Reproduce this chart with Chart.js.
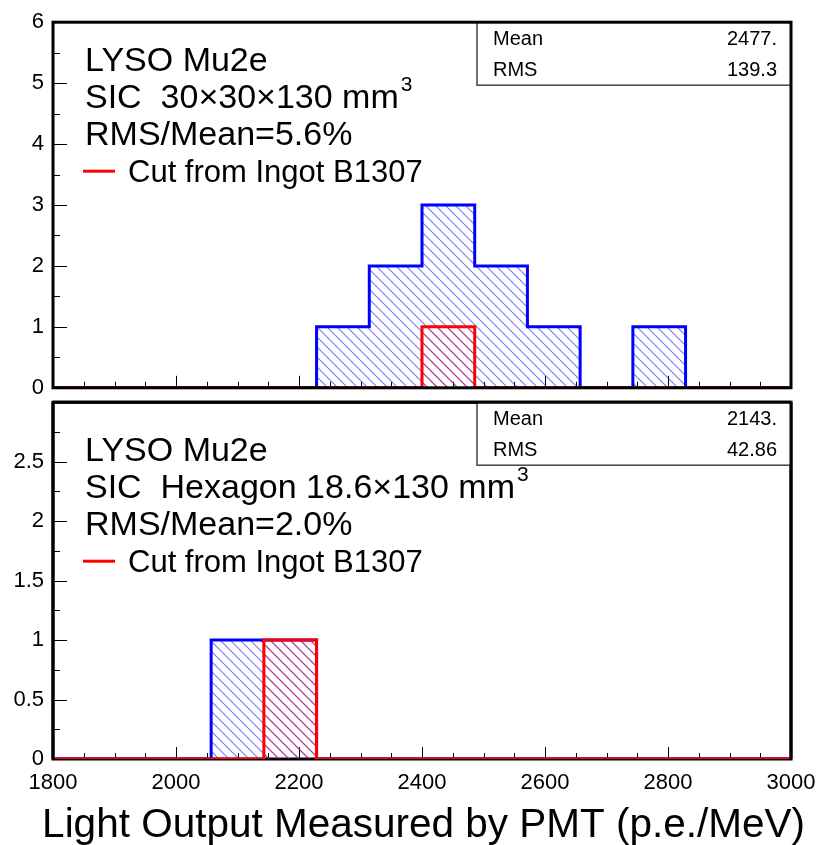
<!DOCTYPE html>
<html>
<head>
<meta charset="utf-8">
<script src="https://cdn.jsdelivr.net/npm/chart.js@4"></script>
<style>
  html, body { margin: 0; padding: 0; background: #fff; }
  #wrap { position: relative; width: 823px; height: 845px; }
  canvas { position: absolute; left: 0; }
  #top-chart { top: 0; }
  #bot-chart { top: 380px; }
</style>
</head>
<body>
<div id="wrap">
  <canvas id="top-chart" width="823" height="410"></canvas>
  <canvas id="bot-chart" width="823" height="465"></canvas>
</div>
<script>
// histogram binning (14 bins between 1800 and 3000)
const xMin = 1800;
const xMax = 3000;
const nBins = 14;

// entries per bin
const topAll   = [0, 0, 0, 0, 0, 1, 2, 3, 2, 1, 0, 1, 0, 0];
const topB1307 = [0, 0, 0, 0, 0, 0, 0, 1, 0, 0, 0, 0, 0, 0];
const botAll   = [0, 0, 0, 1, 1, 0, 0, 0, 0, 0, 0, 0, 0, 0];
const botB1307 = [0, 0, 0, 0, 1, 0, 0, 0, 0, 0, 0, 0, 0, 0];

// text
const topLines = ['LYSO Mu2e', 'SIC  30\u00d730\u00d7130 mm', 'RMS/Mean=5.6%'];
const botLines = ['LYSO Mu2e', 'SIC  Hexagon 18.6\u00d7130 mm', 'RMS/Mean=2.0%'];
const legendLabel = 'Cut from Ingot B1307';
const topStats = [['Mean', '2477.'], ['RMS', '139.3']];
const botStats = [['Mean', '2143.'], ['RMS', '42.86']];
const xTitle = 'Light Output Measured by PMT (p.e./MeV)';

const FONT = '"Liberation Sans", Arial, Helvetica, sans-serif';

function histPoints(counts) {
    const w = (xMax - xMin) / counts.length;
    const pts = counts.map((c, i) => ({ x: xMin + i * w, y: c }));
    pts.push({ x: xMax, y: 0 });
    return pts;
}

function hatch(color) {
    const s = 10;
    const c = document.createElement('canvas');
    c.width = s; c.height = s;
    const g = c.getContext('2d');
    g.strokeStyle = color;
    g.lineWidth = 1.1;
    g.beginPath();
    g.moveTo(-1, -1); g.lineTo(s + 1, s + 1);
    g.moveTo(s - 2, -2); g.lineTo(s + 2, 2);
    g.moveTo(-2, s - 2); g.lineTo(2, s + 2);
    g.stroke();
    return g.createPattern(c, 'repeat');
}

function histDataset(counts, line, fill, order) {
    return {
        data: histPoints(counts),
        stepped: 'before',   // horizontal first: bin edge -> next edge
        borderColor: line,
        borderWidth: 3,
        backgroundColor: hatch(fill),
        fill: 'origin',
        pointRadius: 0,
        order: order
    };
}

// inward ticks + frame
function drawFrame(chart) {
    const ctx = chart.ctx;
    const a = chart.chartArea;
    ctx.save();
    ctx.strokeStyle = '#000';
    ctx.lineWidth = 3;
    ctx.strokeRect(a.left, a.top, a.right - a.left, a.bottom - a.top);
    ctx.restore();
}

function drawTicks(chart, yMinor) {
    const ctx = chart.ctx;
    const a = chart.chartArea;
    const xs = chart.scales.x;
    const ys = chart.scales.y;
    ctx.save();
    ctx.strokeStyle = '#000';
    ctx.lineWidth = 1;
    ctx.beginPath();
    for (let v = xMin; v <= xMax; v += 50) {
        const px = Math.round(xs.getPixelForValue(v)) + 0.5;
        const len = (v % 200 === 0) ? 12 : 6;
        ctx.moveTo(px, a.bottom);
        ctx.lineTo(px, a.bottom - len);
    }
    for (let i = 0; ys.min + i * yMinor <= ys.max + 1e-9; i++) {
        const v = ys.min + i * yMinor;
        const py = Math.round(ys.getPixelForValue(v)) + 0.5;
        const len = (i % 2 === 0) ? 14 : 7;
        ctx.moveTo(a.left, py);
        ctx.lineTo(a.left + len, py);
    }
    ctx.stroke();
    ctx.restore();
}

const panelPlugin = {
    id: 'panel',
    beforeDatasetsDraw(chart, args, opts) {
        drawTicks(chart, opts.yMinor);
        if (!opts.frameOnTop) drawFrame(chart);
    },
    afterDatasetsDraw(chart, args, opts) {
        const ctx = chart.ctx;
        const a = chart.chartArea;

        // text block
        ctx.save();
        ctx.fillStyle = '#000';
        ctx.textBaseline = 'alphabetic';
        ctx.textAlign = 'left';
        ctx.font = '34px ' + FONT;
        const x0 = a.left + 32;
        const y0 = a.top + opts.textTop;
        opts.lines.forEach((t, i) => {
            ctx.fillText(t, x0, y0 + i * 37);
        });
        const w2 = ctx.measureText(opts.lines[1]).width;
        ctx.font = '21px ' + FONT;
        ctx.fillText('3', x0 + w2 + 2, y0 + 37 - 17);

        // legend entry
        ctx.font = '31px ' + FONT;
        ctx.fillText(legendLabel, a.left + 75, y0 + 3 * 37);
        ctx.strokeStyle = '#ff0000';
        ctx.lineWidth = 3;
        ctx.beginPath();
        ctx.moveTo(a.left + 30, y0 + 3 * 37 - 11);
        ctx.lineTo(a.left + 62, y0 + 3 * 37 - 11);
        ctx.stroke();

        // stats box
        const bx = 477, bw = a.right - bx, bh = 63;
        ctx.fillStyle = '#fff';
        ctx.fillRect(bx, a.top, bw, bh);
        ctx.strokeStyle = '#444';
        ctx.lineWidth = 1.5;
        ctx.strokeRect(bx, a.top, bw, bh);
        ctx.fillStyle = '#000';
        ctx.font = '20px ' + FONT;
        opts.stats.forEach((row, i) => {
            const y = a.top + 23 + i * 31;
            ctx.textAlign = 'left';
            ctx.fillText(row[0], bx + 16, y);
            ctx.textAlign = 'right';
            ctx.fillText(row[1], a.right - 14, y);
        });

        // axis title, wider than the plot area, so drawn here
        if (opts.title) {
            ctx.font = '40px ' + FONT;
            const size = 40 * 763 / ctx.measureText(opts.title).width;
            ctx.font = size + 'px ' + FONT;
            ctx.textAlign = 'center';
            ctx.fillText(opts.title, 423.5, chart.height - 8);
        }
        ctx.restore();

        if (opts.frameOnTop) drawFrame(chart);
        else {
            // keep the histogram line on the x axis visible
            ctx.save();
            ctx.strokeStyle = '#000';
            ctx.lineWidth = 3;
            ctx.beginPath();
            ctx.moveTo(a.right, a.top); ctx.lineTo(a.right, a.bottom);
            ctx.moveTo(a.left, a.top); ctx.lineTo(a.right, a.top);
            ctx.moveTo(a.left, a.top); ctx.lineTo(a.left, a.bottom);
            ctx.stroke();
            ctx.restore();
        }
    }
};

function makeChart(id, all, b1307, yMax, yStep, opts) {
    return new Chart(document.getElementById(id), {
        type: 'line',
        data: {
            datasets: [
                histDataset(all, '#0000ff', 'rgba(30,30,255,0.6)', 2),
                histDataset(b1307, '#ff0000', 'rgba(230,10,70,0.65)', 1)
            ]
        },
        options: {
            responsive: false,
            animation: false,
            layout: { padding: { top: opts.padTop, right: 32, left: 0, bottom: 0 } },
            plugins: {
                legend: { display: false },
                tooltip: { enabled: false },
                panel: opts.panel
            },
            scales: {
                x: {
                    type: 'linear',
                    min: xMin,
                    max: xMax,
                    grid: { display: false, drawTicks: false, tickLength: 0 },
                    border: { display: false },
                    ticks: {
                        display: opts.showX,
                        stepSize: 200,
                        maxRotation: 0,
                        padding: 11,
                        color: '#000',
                        font: { family: FONT, size: 22 },
                        callback: (v) => String(v)
                    },
                    afterFit(s) {
                        s.height = opts.xHeight;
                        s.paddingLeft = 0;
                        s.paddingRight = 0;
                    }
                },
                y: {
                    min: 0,
                    max: yMax,
                    grid: { display: false, drawTicks: false, tickLength: 0 },
                    border: { display: false },
                    ticks: {
                        stepSize: yStep,
                        padding: 9,
                        color: '#000',
                        font: { family: FONT, size: 22 },
                        callback: (v) => (v === yMax && opts.hideTop) ? '' : String(v)
                    },
                    afterFit(s) { s.width = 53; }
                }
            }
        },
        plugins: [panelPlugin]
    });
}

makeChart('top-chart', topAll, topB1307, 6, 1, {
    padTop: 20, xHeight: 20, showX: false, hideTop: false,
    panel: { yMinor: 0.5, frameOnTop: true, textTop: 49, lines: topLines, stats: topStats }
});

makeChart('bot-chart', botAll, botB1307, 3, 0.5, {
    padTop: 12, xHeight: 86, showX: true, hideTop: true,
    panel: { yMinor: 0.25, frameOnTop: false, textTop: 59, lines: botLines, stats: botStats, title: xTitle }
});
</script>
</body>
</html>
